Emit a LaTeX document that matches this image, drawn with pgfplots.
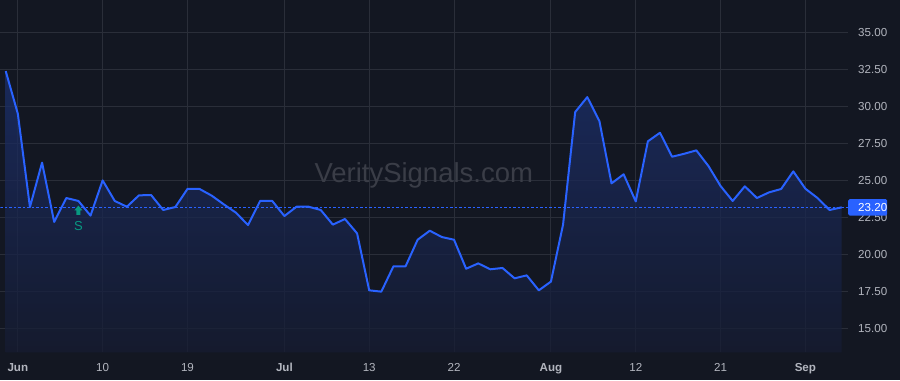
\documentclass[border=0pt]{standalone}
\usepackage{pgfplots}
\pgfplotsset{compat=1.18}
\usepackage{pgfplotstable}
\usepackage{fontspec}
\setmainfont{Liberation Sans}
\definecolor{bg}{HTML}{131722}
\definecolor{tvgrid}{HTML}{2A2E39}
\definecolor{tvblue}{HTML}{2962FF}
\definecolor{tvtick}{HTML}{B2B5BE}
\definecolor{sig}{HTML}{089981}
\definecolor{wm}{HTML}{3A3D47}
\definecolor{filltop}{RGB}{28,48,109}
\definecolor{fillbot}{RGB}{22,28,50}

\pgfdeclareplotmark{uparrow}{%
  \pgfpathmoveto{\pgfpoint{-2pt}{-4.7pt}}%
  \pgfpathlineto{\pgfpoint{2pt}{-4.7pt}}%
  \pgfpathlineto{\pgfpoint{2pt}{0pt}}%
  \pgfpathlineto{\pgfpoint{4pt}{0pt}}%
  \pgfpathlineto{\pgfpoint{0pt}{4.7pt}}%
  \pgfpathlineto{\pgfpoint{-4pt}{0pt}}%
  \pgfpathlineto{\pgfpoint{-2pt}{0pt}}%
  \pgfpathclose
  \pgfusepathqfill}

\pgfplotstableread{
i v
-1 32.41
0 29.53
1 23.22
2 26.22
3 22.21
4 23.83
5 23.63
6 22.64
7 25.02
8 23.63
9 23.24
10 24.01
11 24.03
12 23.02
13 23.22
14 24.44
15 24.44
16 23.99
17 23.40
18 22.84
19 22.00
20 23.63
21 23.63
22 22.61
23 23.24
24 23.24
25 23.02
26 22.03
27 22.41
28 21.44
29 17.59
30 17.50
31 19.21
32 19.21
33 21.01
34 21.62
35 21.19
36 21.01
37 19.05
38 19.41
39 19.01
40 19.10
41 18.40
42 18.60
43 17.59
44 18.18
45 22.03
46 29.64
47 30.65
48 29.03
49 24.82
50 25.43
51 23.60
52 27.66
53 28.24
54 26.62
55 26.82
56 27.05
57 25.99
58 24.64
59 23.63
60 24.62
61 23.83
62 24.21
63 24.44
64 25.63
65 24.46
66 23.83
67 23.02
68 23.20
}\pricedata

\begin{document}
\begin{tikzpicture}
\fill[bg] (0pt,-28pt) rectangle (900pt,352pt);
\begin{axis}[
  scale only axis, width=848pt, height=352pt,
  at={(0pt,0pt)}, anchor=south west,
  xmin=-1.43, xmax=68.52, ymin=13.4, ymax=37.18,
  axis line style={draw=none}, major tick length=0pt,
  xtick={0,7,14,22,29,36,44,51,58,65},
  xticklabels={\textbf{Jun},10,19,\textbf{Jul},13,22,\textbf{Aug},12,21,\textbf{Sep}},
  ytick={15,17.5,20,22.5,25,27.5,30,32.5,35},
  yticklabel pos=right,
  grid=major, major grid style={draw=tvgrid, line width=1pt},
  ticklabel style={font=\fontsize{11.6}{14}\selectfont, text=tvtick, inner sep=0pt},
  xticklabel style={anchor=base, yshift=-19.5pt},
  yticklabel style={anchor=west, xshift=10pt,
    /pgf/number format/.cd, fixed, fixed zerofill, precision=2, assume math mode=true},
  clip=true,
]
\addplot[top color=filltop, bottom color=fillbot, fill opacity=0.75, draw=none] table[x=i,y=v]{\pricedata} \closedcycle;
\addplot[tvblue, line width=1pt, dash pattern=on 2.5pt off 2pt] coordinates {(-1.43,23.2) (68.52,23.2)};
\addplot[tvblue, line width=2pt, line join=round] table[x=i,y=v]{\pricedata};
\addplot[only marks, mark=uparrow, color=sig, nodes near coords={S},
  every node near coord/.style={anchor=center, yshift=-15.7pt, font=\fontsize{13}{15}\selectfont, text=sig}]
  coordinates {(5,23.0)};
\coordinate (pl) at (axis cs:68.52,23.2);
\end{axis}
\node[anchor=base, text=wm, font=\fontsize{27.5}{30}\selectfont] at (423.5pt,170.3pt) {VeritySignals.com};
\node[fill=tvblue, text=white, anchor=west, inner sep=0pt, minimum height=16.4pt, rounded corners=1.5pt,
  font=\fontsize{11.6}{14}\selectfont] at (pl) {\hspace{10pt}23.20\hspace{6pt}};
\end{tikzpicture}
\end{document}
